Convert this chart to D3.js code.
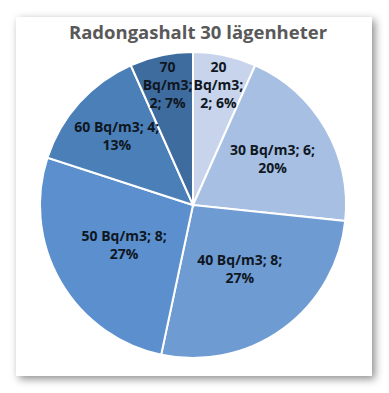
<!DOCTYPE html>
<html>
<head>
<meta charset="utf-8">
<script src="https://cdn.jsdelivr.net/npm/d3@7"></script>
<style>
  body { margin: 0; background: #fff; }
</style>
</head>
<body>
<script>
// chart data
var categories = ["20 Bq/m3", "30 Bq/m3", "40 Bq/m3", "50 Bq/m3", "60 Bq/m3", "70 Bq/m3"];
var counts = [2, 6, 8, 8, 4, 2];
var percents = ["6%", "20%", "27%", "27%", "13%", "7%"];
var colors = ["#c7d4eb", "#a7bfe2", "#6f9bd3", "#5b8fcd", "#4b7fb8", "#3f6c9f"];
// label distance from centre, as a share of the radius (best fit look)
var labelPos = [0.8, 0.6, 0.52, 0.52, 0.67, 0.8];

var width = 389, height = 393;
var cx = 193, cy = 205, radius = 153;

var svg = d3.select('body').append('svg')
            .attr('width', width)
            .attr('height', height);

var defs = svg.append('defs');
var shadow = defs.append('filter').attr('id', 'shadow')
  .attr('x', '-10%').attr('y', '-10%').attr('width', '120%').attr('height', '120%');
shadow.append('feDropShadow')
  .attr('dx', 3).attr('dy', 3)
  .attr('stdDeviation', 4)
  .attr('flood-color', '#000')
  .attr('flood-opacity', 0.45);

// chart box
svg.append('rect')
   .attr('x', 16).attr('y', 17)
   .attr('width', 356).attr('height', 359)
   .attr('fill', '#fff')
   .attr('filter', 'url(#shadow)');

svg.append('text')
   .attr('x', 198).attr('y', 39)
   .attr('text-anchor', 'middle')
   .style('font-family', 'Open Sans')
   .style('font-weight', 'bold')
   .style('font-size', '18.5px')
   .attr('fill', '#595959')
   .text('Radongashalt 30 lägenheter');

var pie = d3.pie().sort(null).value(function (d) { return d; });
var arcs = pie(counts);
var arc = d3.arc().innerRadius(0).outerRadius(radius);

var g = svg.append('g').attr('transform', 'translate(' + cx + ',' + cy + ')');

g.selectAll('path')
  .data(arcs)
  .enter().append('path')
  .attr('d', arc)
  .attr('fill', function (d, i) { return colors[i]; })
  .attr('stroke', '#fff')
  .attr('stroke-width', 2);

var total = d3.sum(counts);

var labels = g.selectAll('text.lbl')
  .data(arcs)
  .enter().append('text')
  .attr('class', 'lbl')
  .attr('text-anchor', 'middle')
  .style('font-family', 'Open Sans')
  .style('font-weight', 'bold')
  .style('font-size', '14px')
  .attr('fill', '#0f1722');

labels.each(function (d, i) {
  var t = d3.select(this);
  var r = radius * labelPos[i];
  var c = d3.arc().innerRadius(r).outerRadius(r).centroid(d);
  var maxW = counts[i] / total < 0.1 ? 56 : 108;
  var words = (categories[i] + '; ' + counts[i] + '; ' + percents[i]).split(' ');

  // simple word wrap
  var lines = [], cur = '';
  var probe = t.append('tspan');
  words.forEach(function (w) {
    var test = cur ? cur + ' ' + w : w;
    probe.text(test);
    if (cur && probe.node().getComputedTextLength() > maxW) {
      lines.push(cur);
      cur = w;
    } else {
      cur = test;
    }
  });
  lines.push(cur);
  probe.remove();

  var lh = 18;
  var y0 = c[1] - (lines.length - 1) * lh / 2 + 5;
  lines.forEach(function (ln, k) {
    t.append('tspan')
     .attr('x', c[0])
     .attr('y', y0 + k * lh)
     .text(ln);
  });
});
</script>
</body>
</html>
